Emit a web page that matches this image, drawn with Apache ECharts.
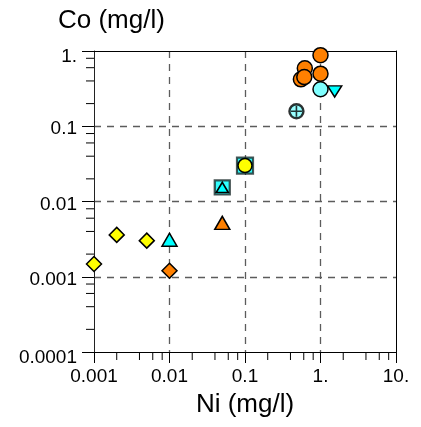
<!DOCTYPE html>
<html>
<head>
<meta charset="utf-8">
<script src="https://cdn.jsdelivr.net/npm/echarts@6/dist/echarts.min.js"></script>
<style>
  html, body { margin: 0; padding: 0; background: #fff; }
  #chart { width: 421px; height: 427px; }
</style>
</head>
<body>
<div id="chart"></div>
<script>
// Ni vs Co concentrations (mg/l), log-log
const xTickValues = [0.001, 0.01, 0.1, 1, 10];
const xTickLabels = ['0.001', '0.01', '0.1', '1.', '10.'];
const yTickValues = [0.0001, 0.001, 0.01, 0.1, 1];
const yTickLabels = ['0.0001', '0.001', '0.01', '0.1', '1.'];
const minorSteps = [2, 4, 6, 8];
const xDecades = [0.001, 0.01, 0.1, 1];
const yDecades = [0.0001, 0.001, 0.01, 0.1];

// sample groups: [Ni, Co]
const orangeCircles = [[0.62, 0.59], [0.55, 0.42], [0.61, 0.45], [1.0, 0.88], [1.0, 0.50]];
const paleCyanCircles = [[1.0, 0.31]];
const cyanDownTriangles = [[1.54, 0.29]];
const crossedCircles = [[0.48, 0.158]];
const yellowOnSquare = [[0.1, 0.03]];
const triangleOnSquare = [[0.05, 0.0154]];
const cyanTriangles = [[0.01, 0.0031]];
const orangeTriangles = [[0.05, 0.0052]];
const orangeDiamonds = [[0.01, 0.0012]];
const yellowDiamonds = [[0.001, 0.00148], [0.002, 0.0036], [0.005, 0.00302]];

const FONT = 'Liberation Sans';
const ORANGE = '#FF8000', YELLOW = '#FFFF00', CYAN = '#00FFFF', PALE_CYAN = '#80FFFF';

const xMinor = [];
xDecades.forEach(d => minorSteps.forEach(m => xMinor.push([d * m, yTickValues[0]])));
const yMinor = [];
yDecades.forEach(d => minorSteps.forEach(m => yMinor.push([xTickValues[0], d * m])));

function findLabel(values, labels, v) {
  const i = values.findIndex(t => Math.abs(Math.log10(t) - Math.log10(v)) < 1e-6);
  return i;
}

const labelFont = { fontFamily: FONT, fontSize: 19, color: '#000' };

function scatter(name, data, symbol, size, color, extra) {
  return Object.assign({
    name, type: 'scatter', data, symbol, symbolSize: size, clip: false,
    itemStyle: { color, borderColor: '#000', borderWidth: 1.5, opacity: 1 },
    emphasis: { disabled: true }
  }, extra || {});
}

const chart = echarts.init(document.getElementById('chart'), null, { renderer: 'canvas' });
chart.setOption({
  animation: false,
  backgroundColor: '#fff',
  grid: { left: 94, right: 25, top: 51, bottom: 75 },
  xAxis: [{
    type: 'log', logBase: 10, min: 0.001, max: 10,
    name: 'Ni (mg/l)', nameLocation: 'middle', nameGap: 40,
    nameTextStyle: { fontFamily: FONT, fontSize: 26, color: '#000' },
    axisLine: { show: true, onZero: false, lineStyle: { color: '#000', width: 1 } },
    axisTick: { show: true, length: 11, lineStyle: { color: '#000', width: 1 } },
    axisLabel: Object.assign({ margin: 15, formatter: v => {
      const i = findLabel(xTickValues, xTickLabels, v);
      return i >= 0 ? xTickLabels[i] : '';
    } }, labelFont),
    splitLine: { show: true, showMinLine: false, showMaxLine: false, lineStyle: { color: '#5c5c5c', width: 1.3, type: [7, 6] } }
  }, {
    type: 'log', logBase: 10, min: 0.001, max: 10, position: 'top',
    axisLine: { show: true, onZero: false, lineStyle: { color: '#000', width: 1 } },
    axisTick: { show: false }, axisLabel: { show: false }, splitLine: { show: false }
  }],
  yAxis: [{
    type: 'log', logBase: 10, min: 0.0001, max: 1,
    axisLine: { show: true, onZero: false, lineStyle: { color: '#222', width: 1 } },
    axisTick: { show: true, length: 12, lineStyle: { color: '#000', width: 1 } },
    axisLabel: Object.assign({
      margin: 17,
      formatter: v => {
        const i = findLabel(yTickValues, yTickLabels, v);
        if (i < 0) return '';
        const edge = i === 0 || i === yTickValues.length - 1;
        return '{' + (edge ? 'e' : 'n') + '|' + yTickLabels[i] + '}';
      },
      rich: {
        e: Object.assign({ padding: [12, 0, 0, 0] }, labelFont),
        n: Object.assign({ padding: [6, 0, 0, 0] }, labelFont)
      }
    }, labelFont),
    splitLine: { show: true, showMinLine: false, showMaxLine: false, lineStyle: { color: '#5c5c5c', width: 1.3, type: [7, 6] } }
  }, {
    type: 'log', logBase: 10, min: 0.0001, max: 1, position: 'right',
    axisLine: { show: true, onZero: false, lineStyle: { color: '#000', width: 1 } },
    axisTick: { show: false }, axisLabel: { show: false }, splitLine: { show: false }
  }],
  title: {
    text: 'Co (mg/l)', left: 53, top: 3,
    textStyle: { fontFamily: FONT, fontSize: 26, fontWeight: 'normal', color: '#000' }
  },
  series: [
    {
      name: 'xMinorTicks', type: 'custom', data: xMinor, clip: false,
      renderItem: (params, api) => {
        const p = api.coord([api.value(0), api.value(1)]);
        return { type: 'line', shape: { x1: p[0], y1: p[1], x2: p[0], y2: p[1] + 8 }, style: { stroke: '#000', lineWidth: 1 } };
      }
    },
    {
      name: 'yMinorTicks', type: 'custom', data: yMinor, clip: false,
      renderItem: (params, api) => {
        const p = api.coord([api.value(0), api.value(1)]);
        return { type: 'line', shape: { x1: p[0] - 8, y1: p[1], x2: p[0], y2: p[1] }, style: { stroke: '#000', lineWidth: 1 } };
      }
    },
    scatter('Square under circle', yellowOnSquare, 'rect', 16, CYAN, { itemStyle: { color: CYAN, borderColor: '#1a2a2a', borderWidth: 2.2 } }),
    scatter('Yellow circles', yellowOnSquare, 'circle', 14, YELLOW),
    scatter('Square under triangle', triangleOnSquare, 'rect', [15, 14], CYAN, { itemStyle: { color: CYAN, borderColor: '#1a2a2a', borderWidth: 2.2 } }),
    scatter('Triangle in square', triangleOnSquare, 'triangle', [12, 10], CYAN),
    scatter('Cyan triangles', cyanTriangles, 'triangle', [15, 13], CYAN),
    scatter('Orange triangles', orangeTriangles, 'triangle', [15, 13], ORANGE),
    scatter('Orange diamonds', orangeDiamonds, 'diamond', 15, ORANGE),
    scatter('Yellow diamonds', yellowDiamonds, 'diamond', 15, YELLOW),
    scatter('Down triangles', cyanDownTriangles, 'triangle', [14, 11], CYAN, { symbolRotate: 180 }),
    scatter('Pale cyan circles', paleCyanCircles, 'circle', 15, PALE_CYAN),
    scatter('Orange circles', orangeCircles, 'circle', 15, ORANGE),
    scatter('Crossed circles', crossedCircles, 'circle', 14, PALE_CYAN, { itemStyle: { color: PALE_CYAN, borderColor: '#000', borderWidth: 2.4 } }),
    scatter('Crossed circles cross', crossedCircles, 'path://M5,0V10M0,5H10', 11, 'none', { itemStyle: { color: 'none', borderColor: '#000', borderWidth: 1.6 } })
  ]
});
</script>
</body>
</html>
